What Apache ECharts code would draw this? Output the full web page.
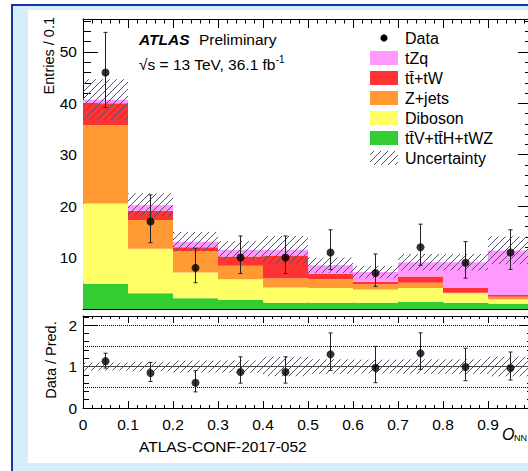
<!DOCTYPE html>
<html><head><meta charset="utf-8">
<script src="https://cdn.jsdelivr.net/npm/echarts@6/dist/echarts.min.js"></script>
<style>
html,body{margin:0;padding:0;width:528px;height:471px;overflow:hidden;background:#fff;}
#bg{position:absolute;left:11px;top:4px;width:517px;height:467px;background:#d6eefb;border-left:2px solid #1a33a6;border-top:2px solid #1a33a6;box-sizing:border-box;}
#panel{position:absolute;left:28px;top:10px;width:500px;height:453px;background:#fff;}
#chart{position:absolute;left:0;top:0;width:528px;height:471px;}
</style></head><body>
<div id="bg"></div><div id="panel"></div><div id="chart"></div>
<script>
// ---------------- data ----------------
const binEdges = [0, 0.1, 0.2, 0.3, 0.4, 0.5, 0.6, 0.7, 0.8, 0.9, 1.0];
const xTickLabels = ['0', '0.1', '0.2', '0.3', '0.4', '0.5', '0.6', '0.7', '0.8', '0.9'];
const yTickLabels = ['10', '20', '30', '40', '50'];
const ratioTickLabels = ['0', '1', '2'];
// stacked backgrounds (bottom -> top)
const ttV     = [4.9, 3.05, 2.1, 1.75, 1.2, 1.2, 1.2, 1.4, 1.2, 1.0];
const diboson = [15.6, 8.65, 5.0, 4.05, 3.0, 2.9, 2.6, 2.7, 1.85, 0.9];
const zjets   = [15.3, 5.6, 4.2, 2.6, 1.8, 1.7, 1.0, 1.0, 0.1, 0.5];
const ttbar   = [4.2, 1.8, 0.7, 1.8, 4.4, 1.1, 0.5, 1.2, 1.0, 0.3];
const tZq     = [0.7, 1.1, 1.1, 1.3, 1.1, 1.6, 1.9, 2.8, 4.95, 8.7];
const uncertainty = [4.0, 2.3, 1.9, 1.7, 2.7, 1.5, 1.2, 1.6, 1.6, 2.7];
// data
const dataCounts  = [46, 17, 8, 10, 10, 11, 7, 12, 9, 11];
const dataErrUp   = [7.8, 5.2, 3.8, 4.2, 4.2, 4.4, 3.7, 4.5, 4.1, 4.4];
const dataErrDown = [6.8, 4.1, 2.9, 3.1, 3.1, 3.3, 2.6, 3.5, 3.0, 3.3];
const legendNames = ['Data', 'tZq', 'tt\u0304+tW', 'Z+jets', 'Diboson', 'tt\u0304V+tt\u0304H+tWZ', 'Uncertainty'];

// ---------------- styles ----------------
const FONT = "'Liberation Sans', Arial, Helvetica, sans-serif";
const COL = {tZq:'#ff99ff', ttbar:'#ff3333', zjets:'#ff9933', diboson:'#ffff66', ttV:'#33cc33'};
const HATCH = {stroke:'#505070', lineWidth:1};

const nb = dataCounts.length;
const centers = binEdges.slice(0, nb).map((e, i) => (e + binEdges[i + 1]) / 2);
const stackOrder = [[ttV, COL.ttV], [diboson, COL.diboson], [zjets, COL.zjets], [ttbar, COL.ttbar], [tZq, COL.tZq]];
const total = new Array(nb).fill(0);
stackOrder.forEach(([v]) => v.forEach((x, i) => total[i] += x));

function hatchLines(x0, y0, x1, y1, sp, style) {
  const out = [];
  for (let c = Math.ceil((x0 + y0) / sp) * sp; c <= x1 + y1; c += sp) {
    const xa = Math.max(x0, c - y1), xb = Math.min(x1, c - y0);
    if (xb - xa > 0.3) out.push({type:'line', shape:{x1:xa, y1:c - xa, x2:xb, y2:c - xb}, style:style});
  }
  return out;
}
function rectRender(color) {
  return function (params, api) {
    const a = api.coord([api.value(0), api.value(3)]);
    const b = api.coord([api.value(1), api.value(2)]);
    return {type:'rect', shape:{x:a[0], y:a[1], width:b[0] - a[0], height:b[1] - a[1]}, style:{fill:color}};
  };
}
function hatchRender(params, api) {
  const cs = params.coordSys;
  const a = api.coord([api.value(0), api.value(3)]);
  const b = api.coord([api.value(1), api.value(2)]);
  const y0 = Math.max(a[1], cs.y), y1 = Math.min(b[1], cs.y + cs.height);
  return {type:'group', children:hatchLines(a[0], y0, b[0], y1, 7, HATCH)};
}
function errRender(params, api) {
  const p1 = api.coord([api.value(0), api.value(1)]);
  const p2 = api.coord([api.value(0), api.value(2)]);
  const st = {stroke:'#222', lineWidth:1};
  return {type:'group', children:[
    {type:'line', shape:{x1:p1[0], y1:p1[1], x2:p2[0], y2:p2[1]}, style:st},
    {type:'line', shape:{x1:p1[0] - 2, y1:p1[1], x2:p1[0] + 2, y2:p1[1]}, style:st},
    {type:'line', shape:{x1:p2[0] - 2, y1:p2[1], x2:p2[0] + 2, y2:p2[1]}, style:st}
  ]};
}

// ---------------- axes ----------------
const lbl = {color:'#000', fontFamily:FONT, fontSize:15.5};
function xAx(grid, pos, showLbl, maj, min) {
  return {type:'value', gridIndex:grid, position:pos, min:0, max:1, interval:0.1,
    axisLine:{show:true, onZero:false, lineStyle:{color:'#000', width:1}},
    axisTick:{show:true, inside:true, length:maj, lineStyle:{color:'#000'}},
    minorTick:{show:true, splitNumber:5, length:min, lineStyle:{color:'#000'}},
    axisLabel:Object.assign({show:showLbl, margin:8, formatter:function (v) {
      const i = Math.round(v * 10); return i < xTickLabels.length ? xTickLabels[i] : ''; }}, lbl),
    splitLine:{show:false}, minorSplitLine:{show:false}};
}
function yAx(grid, pos, max, interval, tickLen, showLine, fmt) {
  return {type:'value', gridIndex:grid, position:pos, min:0, max:max, interval:interval,
    axisLine:{show:showLine, onZero:false, lineStyle:{color:'#000', width:1}},
    axisTick:{show:true, inside:true, length:tickLen, lineStyle:{color:'#000'}},
    axisLabel:Object.assign({show:!!fmt, margin:6, formatter:fmt || ''}, lbl),
    splitLine:{show:false}};
}
const upFmt = v => { const k = Math.round(v / 10); return (Math.abs(v - k * 10) < 1e-6 && k >= 1 && k <= 5) ? yTickLabels[k - 1] : ''; };
const rFmt = v => { const k = Math.round(v); return (Math.abs(v - k) < 1e-6 && k <= 2) ? ratioTickLabels[k] : ''; };
const UPMAX = 56.4, RMAX = 2.22;

// ---------------- series ----------------
const series = [];
const cum = new Array(nb).fill(0);
stackOrder.forEach(([vals, color]) => {
  const items = vals.map((v, i) => { const b = cum[i]; cum[i] += v; return [binEdges[i], binEdges[i + 1], b, cum[i]]; });
  series.push({type:'custom', xAxisIndex:0, yAxisIndex:0, renderItem:rectRender(color), data:items, z:1, silent:true});
});
series.push({type:'custom', xAxisIndex:0, yAxisIndex:0, renderItem:hatchRender, z:2, silent:true,
  data:total.map((t, i) => [binEdges[i], binEdges[i + 1], t - uncertainty[i], t + uncertainty[i]])});
series.push({type:'custom', xAxisIndex:0, yAxisIndex:0, renderItem:errRender, z:3, silent:true,
  data:dataCounts.map((d, i) => [centers[i], d - dataErrDown[i], d + dataErrUp[i]])});
series.push({type:'scatter', xAxisIndex:0, yAxisIndex:0, symbol:'circle', symbolSize:8, z:4, silent:true,
  itemStyle:{color:'#000'}, data:dataCounts.map((d, i) => [centers[i], d])});
// ratio panel
series.push({type:'custom', xAxisIndex:2, yAxisIndex:4, renderItem:hatchRender, z:2, silent:true,
  data:total.map((t, i) => [binEdges[i], binEdges[i + 1], 1 - uncertainty[i] / t, 1 + uncertainty[i] / t])});
series.push({type:'custom', xAxisIndex:2, yAxisIndex:4, renderItem:errRender, z:3, silent:true,
  data:dataCounts.map((d, i) => [centers[i], (d - dataErrDown[i]) / total[i], (d + dataErrUp[i]) / total[i]])});
series.push({type:'scatter', xAxisIndex:2, yAxisIndex:4, symbol:'circle', symbolSize:8, z:4, silent:true,
  itemStyle:{color:'#000'}, data:dataCounts.map((d, i) => [centers[i], d / total[i]]),
  markLine:{silent:true, symbol:['none', 'none'], label:{show:false}, z:1,
    lineStyle:{color:'#000', width:1, type:'dotted'},
    data:[{yAxis:0.5}, {yAxis:1, lineStyle:{type:'solid', color:'#444'}}, {yAxis:1.5}, {yAxis:2}]}});

// ---------------- graphics ----------------
const txt = (x, y, text, extra) => ({type:'text', x:x, y:y, z:10, silent:true,
  style:Object.assign({text:text, fill:'#000', fontFamily:FONT, fontSize:16, align:'left', verticalAlign:'middle',
    textAlign:'left', textVerticalAlign:'middle'}, extra || {})});
const graphic = [];
graphic.push(txt(49, 17, 'Entries / 0.1', {fontSize:14.5, align:'right', textAlign:'right'}));
graphic[graphic.length - 1].rotation = Math.PI / 2;
graphic.push(txt(51, 360, 'Data / Pred.', {fontSize:14.5, align:'center', textAlign:'center'}));
graphic[graphic.length - 1].rotation = Math.PI / 2;
graphic.push(txt(139, 39, 'ATLAS', {fontSize:15.5, fontWeight:'bold', fontStyle:'italic'}));
graphic.push(txt(199, 39, 'Preliminary', {fontSize:15.5}));
graphic.push({type:'text', x:139, y:54, z:10, silent:true, style:{
  text:'{m|\u221As = 13 TeV, 36.1 fb}{s|-1}', fontFamily:FONT, fill:'#000', align:'left', textAlign:'left',
  rich:{m:{fontSize:15.5, fontFamily:FONT, fill:'#000', lineHeight:18, verticalAlign:'bottom'},
        s:{fontSize:10, fontFamily:FONT, fill:'#000', lineHeight:18, verticalAlign:'top'}}}});
graphic.push(txt(139, 446, 'ATLAS-CONF-2017-052', {fontSize:15.5}));
graphic.push(txt(502, 434, 'O', {fontSize:16, fontStyle:'italic'}));
graphic.push(txt(514, 438, 'NN', {fontSize:9}));
// legend
const LX = 370, LW = 28, LH = 14, TX = 405;
const legendRows = [38, 58, 78, 98, 118, 138, 158];
graphic.push({type:'circle', shape:{cx:384, cy:legendRows[0], r:3.6}, style:{fill:'#000'}, z:10, silent:true});
const legCols = [null, COL.tZq, COL.ttbar, COL.zjets, COL.diboson, COL.ttV];
for (let k = 1; k <= 5; k++) {
  graphic.push({type:'rect', shape:{x:LX, y:legendRows[k] - LH / 2, width:LW, height:LH}, style:{fill:legCols[k]}, z:10, silent:true});
}
graphic.push({type:'group', z:10, silent:true, children:hatchLines(LX, legendRows[6] - LH / 2, LX + LW, legendRows[6] + LH / 2, 7, HATCH)});
legendNames.forEach((n, k) => graphic.push(txt(TX, legendRows[k], n)));

const chart = echarts.init(document.getElementById('chart'), null, {renderer:'svg', width:528, height:471});
chart.setOption({
  animation:false,
  backgroundColor:'transparent',
  grid:[
    {left:83, top:19, width:450, height:290, containLabel:false, outerBoundsMode:'none'},
    {left:83, top:316, width:450, height:92, containLabel:false, outerBoundsMode:'none'}
  ],
  xAxis:[xAx(0, 'bottom', false, 9, 4.5), xAx(0, 'top', false, 9, 4.5), xAx(1, 'bottom', true, 7, 3), xAx(1, 'top', false, 7, 3)],
  yAxis:[
    yAx(0, 'left', UPMAX, 10, 15, true, upFmt), yAx(0, 'left', UPMAX, 2, 8, false, null),
    yAx(0, 'right', UPMAX, 10, 15, true, null), yAx(0, 'right', UPMAX, 2, 8, false, null),
    yAx(1, 'left', RMAX, 1, 14, true, rFmt), yAx(1, 'left', RMAX, 0.2, 6, false, null),
    yAx(1, 'right', RMAX, 1, 14, true, null), yAx(1, 'right', RMAX, 0.2, 6, false, null)
  ],
  series:series,
  graphic:graphic
});
</script>
</body></html>
